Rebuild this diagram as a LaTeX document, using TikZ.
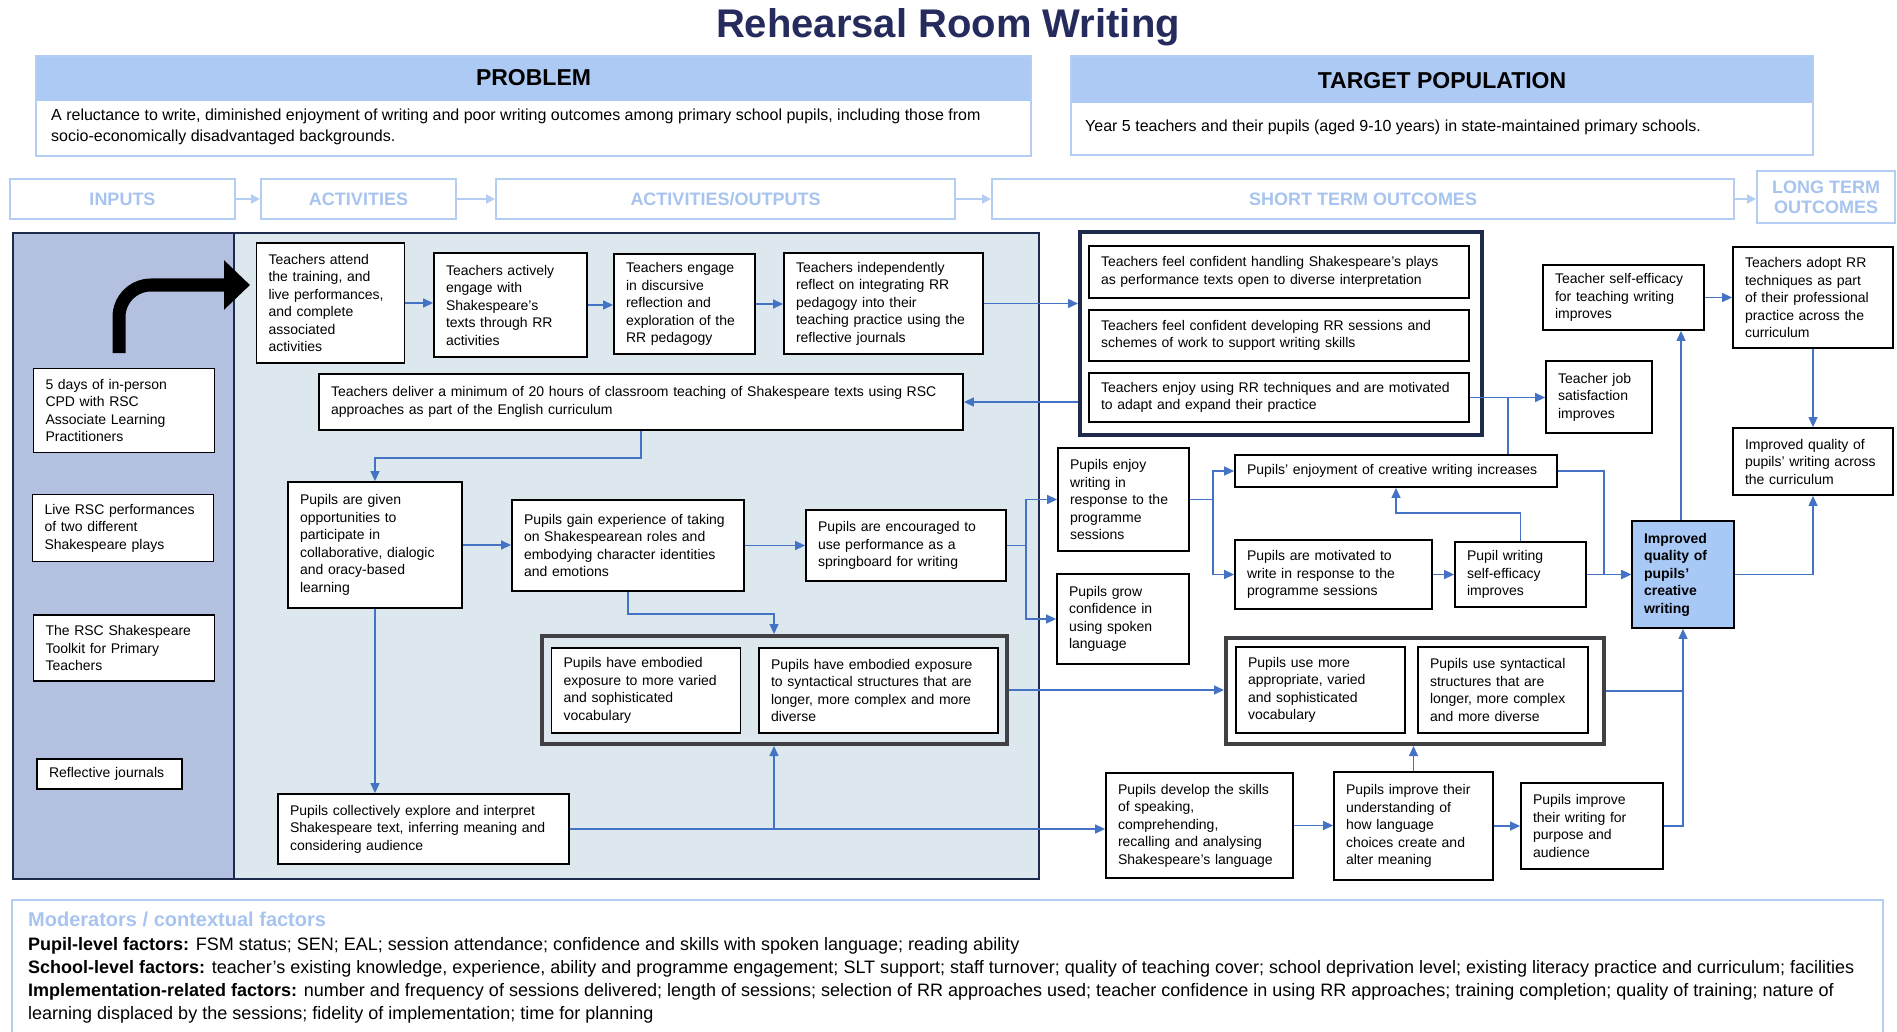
\documentclass[tikz,border=0pt]{standalone}
\usepackage{fontspec}
\setmainfont{Liberation Sans}
\usepackage{tikz}
\usetikzlibrary{positioning,arrows.meta}
\usepackage{xcolor}

\definecolor{linkblue}{HTML}{4472C4}
\definecolor{paleblue}{HTML}{ADCAF5}
\definecolor{headline}{HTML}{B4CDF3}
\definecolor{headtext}{HTML}{A7C4F0}
\definecolor{titlenavy}{HTML}{262B5E}
\definecolor{panelnavy}{HTML}{1F2B4D}
\definecolor{inpfill}{HTML}{B4C0DF}
\definecolor{actfill}{HTML}{DCE8ED}
\definecolor{grpgrey}{HTML}{404045}
\definecolor{keyfill}{HTML}{A8C8F6}

\newcommand{\cardfont}{\fontsize{14}{17.5}\selectfont}

\tikzset{
  card/.style={draw=black, line width=1.8pt, fill=white, align=left, inner xsep=12pt, inner ysep=3pt, font=\cardfont},
  link/.style={draw=linkblue, line width=1.3pt},
  flow/.style={link, -{Triangle[length=10pt,width=9pt]}},
  stagebox/.style={draw=headline, line width=2pt, fill=white, text=headtext, font=\fontsize{18}{20}\selectfont\bfseries, align=center},
  stageflow/.style={draw=headline, line width=2pt, -{Triangle[length=9pt,width=9pt]}},
  tgroup/.style={draw=panelnavy, line width=4pt, inner sep=0pt},
  ggroup/.style={draw=grpgrey, line width=4pt, inner sep=0pt},
  modline/.style={anchor=base west, inner sep=0pt, font=\fontsize{18}{22}\selectfont},
}

\begin{document}
\begin{tikzpicture}[x=1pt, y=-1pt]
  \useasboundingbox (0,0) rectangle (1897,1032);

  % title, problem and target population
  \node[font=\fontsize{40}{40}\selectfont\bfseries, text=titlenavy] (title) at (948,27) {Rehearsal Room Writing};
  \fill[paleblue] (36,56) rectangle (1031,101);
  \draw[headline, line width=2pt] (36,56) rectangle (1031,156);
  \node[font=\fontsize{23}{24}\selectfont\bfseries] (probhead) at (533.5,78) {PROBLEM};
  \node[anchor=west, align=left, inner sep=0pt, font=\fontsize{16}{21}\selectfont] (probtext) at (51,127)
    {A reluctance to write, diminished enjoyment of writing and poor writing outcomes among primary school pupils, including those from\\socio-economically disadvantaged backgrounds.};
  \fill[paleblue] (1071,56) rectangle (1813,103);
  \draw[headline, line width=2pt] (1071,56) rectangle (1813,155);
  \node[font=\fontsize{23}{24}\selectfont\bfseries] (targhead) at (1442,81) {TARGET POPULATION};
  \node[anchor=west, align=left, inner sep=0pt, font=\fontsize{16}{21}\selectfont] (targtext) at (1085,127)
    {Year 5 teachers and their pupils (aged 9-10 years) in state-maintained primary schools.};

  % stage headers
  \node[stagebox, minimum width=225pt, minimum height=40pt] (inp) at (122.5,199) {INPUTS};
  \node[stagebox, minimum width=195pt, minimum height=40pt] (act) at (358.5,199) {ACTIVITIES};
  \node[stagebox, minimum width=459pt, minimum height=40pt] (aout) at (725.5,199) {ACTIVITIES/OUTPUTS};
  \node[stagebox, minimum width=742pt, minimum height=40pt] (sto) at (1363,199) {SHORT TERM OUTCOMES};
  \node[stagebox, minimum width=138pt, minimum height=52pt, inner sep=0pt] (lto) at (1826,197) {LONG TERM\\OUTCOMES};
  \draw[stageflow] (inp) -- (act);
  \draw[stageflow] (act) -- (aout);
  \draw[stageflow] (aout) -- (sto);
  \draw[stageflow] (sto.east) -- (sto.east -| lto.west);

  % panels
  \fill[inpfill] (13,233) rectangle (234,879);
  \fill[actfill] (234,233) rectangle (1039,879);
  \draw[panelnavy, line width=2.5pt] (13,233) rectangle (1039,879);
  \draw[panelnavy, line width=2.5pt] (234,233) -- (234,879);

  % groups
  \node[tgroup, minimum width=402pt, minimum height=203pt] (tg) at (1281,333.5) {};
  \node[ggroup, fill=actfill, minimum width=465pt, minimum height=108pt] (g1) at (774.5,690) {};
  \node[ggroup, fill=white, minimum width=378pt, minimum height=106pt] (g2) at (1415,691) {};

  % inputs
  \node[card, text width=157pt, minimum height=84pt] (in1) at (124,410.5) {5 days of in-person\\CPD with RSC\\Associate Learning\\Practitioners};
  \node[card, text width=157pt, minimum height=67pt] (in2) at (123,528) {Live RSC performances\\of two different\\Shakespeare plays};
  \node[card, text width=157pt, minimum height=66pt] (in3) at (124,648) {The RSC Shakespeare\\Toolkit for Primary\\Teachers};
  \node[card, text width=121pt, minimum height=30pt] (in4) at (109.5,774) {Reflective journals};

  \coordinate (cpdup) at (119,353);
  \coordinate (cpdtip) at (250,285);
  \draw[line width=13pt, rounded corners=32pt, -{Triangle[length=26pt,width=48pt]}] (cpdup) |- (cpdtip);

  % activities
  \node[card, text width=124pt, minimum height=120pt] (a1) at (330.5,303) {Teachers attend\\the training, and\\live performances,\\and complete\\associated\\activities};
  \node[card, text width=129pt, minimum height=104pt] (a2) at (510.5,305) {Teachers actively\\engage with\\Shakespeare's\\texts through RR\\activities};
  \node[card, text width=117pt, minimum height=100pt] (a3) at (684.5,304) {Teachers engage\\in discursive\\reflection and\\exploration of the\\RR pedagogy};
  \node[card, text width=175pt, minimum height=101pt] (a4) at (883.5,303.5) {Teachers independently\\reflect on integrating RR\\pedagogy into their\\teaching practice using the\\reflective journals};
  \node[card, text width=620pt, minimum height=56pt] (a5) at (641,402) {Teachers deliver a minimum of 20 hours of classroom teaching of Shakespeare texts using RSC\\approaches as part of the English curriculum};
  \node[card, text width=150pt, minimum height=126pt] (p1) at (375,545) {Pupils are given\\opportunities to\\participate in\\collaborative, dialogic\\and oracy-based\\learning};
  \node[card, text width=208pt, minimum height=91pt] (p2) at (628,545.5) {Pupils gain experience of taking\\on Shakespearean roles and\\embodying character identities\\and emotions};
  \node[card, text width=176pt, minimum height=71pt] (p3) at (906,545.5) {Pupils are encouraged to\\use performance as a\\springboard for writing};
  \node[card, text width=165pt, minimum height=85pt] (v1) at (646,690.5) {Pupils have embodied\\exposure to more varied\\and sophisticated\\vocabulary};
  \node[card, text width=215pt, minimum height=85pt] (v2) at (878.5,690.5) {Pupils have embodied exposure\\to syntactical structures that are\\longer, more complex and more\\diverse};
  \node[card, text width=267pt, minimum height=70pt] (p4) at (423.5,829) {Pupils collectively explore and interpret\\Shakespeare text, inferring meaning and\\considering audience};

  % short term outcomes
  \node[card, text width=356pt, minimum height=52pt] (t1) at (1279,272) {Teachers feel confident handling Shakespeare's plays\\as performance texts open to diverse interpretation};
  \node[card, text width=356pt, minimum height=51pt] (t2) at (1279,335.5) {Teachers feel confident developing RR sessions and\\schemes of work to support writing skills};
  \node[card, text width=356pt, minimum height=49pt] (t3) at (1279,397.5) {Teachers enjoy using RR techniques and are motivated\\to adapt and expand their practice};
  \node[card, text width=107pt, minimum height=103pt] (u1) at (1123.5,499.5) {Pupils enjoy\\writing in\\response to the\\programme\\sessions};
  \node[card, text width=108pt, minimum height=90pt] (u2) at (1123,619) {Pupils grow\\confidence in\\using spoken\\language};
  \node[card, text width=298pt, minimum height=32pt] (e1) at (1396,471) {Pupils' enjoyment of creative writing increases};
  \node[card, text width=173pt, minimum height=69pt] (m1) at (1333.5,574.5) {Pupils are motivated to\\write in response to the\\programme sessions};
  \node[card, text width=107pt, minimum height=65pt] (w1) at (1520.5,574.5) {Pupil writing\\self-efficacy\\improves};
  \node[card, text width=137pt, minimum height=65pt] (j1) at (1623.5,297.5) {Teacher self-efficacy\\for teaching writing\\improves};
  \node[card, text width=82pt, minimum height=72pt] (j2) at (1599,397) {Teacher job\\satisfaction\\improves};
  \node[card, fill=keyfill, font=\cardfont\bfseries, text width=78pt, minimum height=107pt] (cw) at (1683,574.5) {Improved\\quality of\\pupils'\\creative\\writing};
  \node[card, text width=145pt, minimum height=86pt] (x1) at (1320.5,690) {Pupils use more\\appropriate, varied\\and sophisticated\\vocabulary};
  \node[card, text width=146pt, minimum height=86pt] (x2) at (1503,690) {Pupils use syntactical\\structures that are\\longer, more complex\\and more diverse};
  \node[card, text width=163pt, minimum height=105pt] (d1) at (1199.5,825.5) {Pupils develop the skills\\of speaking,\\comprehending,\\recalling and analysing\\Shakespeare's language};
  \node[card, text width=135pt, minimum height=108pt] (d2) at (1413.5,826) {Pupils improve their\\understanding of\\how language\\choices create and\\alter meaning};
  \node[card, text width=118pt, minimum height=86pt] (d3) at (1592,826) {Pupils improve\\their writing for\\purpose and\\audience};

  % long term outcomes
  \node[card, text width=136pt, minimum height=101pt] (lt1) at (1813,297.5) {Teachers adopt RR\\techniques as part\\of their professional\\practice across the\\curriculum};
  \node[card, text width=136pt, minimum height=67pt] (lt2) at (1813,461.5) {Improved quality of\\pupils' writing across\\the curriculum};

  % junction columns
  \coordinate (g1x) at (774,0);
  \coordinate (pjx) at (1026,0);
  \coordinate (ujx) at (1213,0);
  \coordinate (ejx) at (1508,0);
  \coordinate (ecx) at (1604,0);
  \coordinate (cwx) at (1681,0);

  % connectors
  \draw[flow] (a1.east) -- (a1.east -| a2.west);
  \draw[flow] (a2.east) -- (a2.east -| a3.west);
  \draw[flow] (a3.east) -- (a3.east -| a4.west);
  \draw[flow] (a4.east) -- (a4.east -| tg.west);
  \draw[flow] (tg.west |- a5.east) -- (a5.east);
  \draw[flow] (a5.south) -- ++(0,27) -| (p1.north);
  \draw[flow] (p1.east) -- (p1.east -| p2.west);
  \draw[flow] (p2.east) -- (p2.east -| p3.west);
  \draw[flow] (p2.south) -- ++(0,22) -| (g1.north -| g1x);
  \draw[flow] (p1.south) -- (p1.south |- p4.north);
  \draw[flow] (p4.east) -- (p4.east -| d1.west);
  \draw[flow] (p4.east -| g1x) -- (g1.south -| g1x);
  \draw[flow] (p3.east) -- (p3.east -| pjx) |- (u1.west);
  \draw[flow] (p3.east -| pjx) |- (u2.west);
  \draw[flow] (u1.east) -- (u1.east -| ujx) |- (e1.west);
  \draw[flow] (u1.east -| ujx) |- (m1.west);
  \draw[flow] (m1.east) -- (m1.east -| w1.west);
  \draw[flow] (w1.north) -- ++(0,-28) -| (e1.south);
  \draw[flow] (e1.east) -- (e1.east -| ecx) |- (cw.west);
  \draw[flow] (w1.east) -- (w1.east -| cw.west);
  \draw[flow] (t3.east) -- (t3.east -| j2.west);
  \draw[link] (e1.north -| ejx) -- (t3.east -| ejx);
  \draw[flow] (cw.north -| cwx) -- (j1.south -| cwx);
  \draw[flow] (j1.east) -- (j1.east -| lt1.west);
  \draw[flow] (lt1.south) -- (lt2.north);
  \draw[flow] (cw.east) -| (lt2.south);
  \draw[flow] (g1.east) -- (g1.east -| g2.west);
  \draw[link] (g2.east) -- (g2.east -| cw.south);
  \draw[flow] (d3.east) -| (cw.south);
  \draw[flow] (d1.east) -- (d1.east -| d2.west);
  \draw[flow] (d2.east) -- (d2.east -| d3.west);
  \draw[flow] (d2.north) -- (d2.north |- g2.south);

  % moderators
  \draw[headline, line width=2pt] (12,900) rectangle (1883,1045);
  \node[modline, text=headtext, font=\fontsize{20}{22}\selectfont\bfseries] (mod0) at (28,926) {Moderators / contextual factors};
  \node[modline] (mod1) at (28,950) {\textbf{Pupil-level factors:} FSM status; SEN; EAL; session attendance; confidence and skills with spoken language; reading ability};
  \node[modline] (mod2) at (28,973) {\textbf{School-level factors:} teacher's existing knowledge, experience, ability and programme engagement; SLT support; staff turnover; quality of teaching cover; school deprivation level; existing literacy practice and curriculum; facilities};
  \node[modline] (mod3) at (28,996) {\textbf{Implementation-related factors:} number and frequency of sessions delivered; length of sessions; selection of RR approaches used; teacher confidence in using RR approaches; training completion; quality of training; nature of};
  \node[modline] (mod4) at (28,1019) {learning displaced by the sessions; fidelity of implementation; time for planning};
\end{tikzpicture}
\end{document}
